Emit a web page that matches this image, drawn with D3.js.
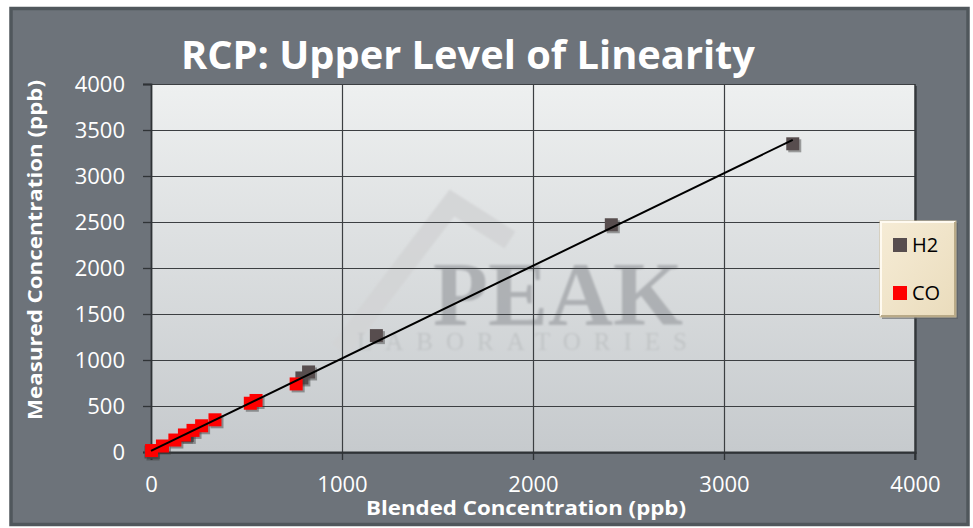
<!DOCTYPE html>
<html><head><meta charset="utf-8">
<script src="https://cdn.jsdelivr.net/npm/d3@7"></script>
<style>html,body{margin:0;padding:0;background:#fff;}svg{display:block;}</style>
</head><body>
<svg id="c" width="973" height="528"></svg>
<script>
// ---- data ----
const seriesNames = ["H2", "CO"];
const h2Blended  = [0, 190, 790, 825, 1180, 2410, 3360];
const h2Measured = [0, 180, 805, 870, 1265, 2470, 3350];
const coBlended  = [3, 60, 125, 175, 220, 265, 335, 520, 550, 760];
const coMeasured = [16, 65, 130, 185, 235, 285, 350, 530, 560, 740];
const xTicks = [0, 1000, 2000, 3000, 4000];
const yTicks = [0, 500, 1000, 1500, 2000, 2500, 3000, 3500, 4000];
const titleText = "RCP: Upper Level of Linearity";
const xTitle = "Blended Concentration (ppb)";
const yTitle = "Measured Concentration (ppb)";

const svg = d3.select("#c");
const L = 151, R = 915, T = 84, B = 452;
const x = d3.scaleLinear().domain([0, 4000]).range([L, R]);
const y = d3.scaleLinear().domain([0, 4000]).range([B, T]);
const font = "'Open Sans', 'Liberation Sans', sans-serif";

const defs = svg.append("defs");
const pg = defs.append("linearGradient").attr("id", "plotg").attr("x1", 0).attr("y1", 0).attr("x2", 0).attr("y2", 1);
pg.append("stop").attr("offset", "0%").attr("stop-color", "#eef0f0");
pg.append("stop").attr("offset", "100%").attr("stop-color", "#c6cacd");
const lg = defs.append("linearGradient").attr("id", "legg").attr("x1", 0).attr("y1", 0).attr("x2", 1).attr("y2", 1);
lg.append("stop").attr("offset", "0%").attr("stop-color", "#f6ecd6");
lg.append("stop").attr("offset", "100%").attr("stop-color", "#eadcbc");
const blur = defs.append("filter").attr("id", "soft");
blur.append("feGaussianBlur").attr("stdDeviation", 0.9);

// chart frame
svg.append("rect").attr("x", 11).attr("y", 8.5).attr("width", 957).attr("height", 516)
  .attr("fill", "#6d737a").attr("stroke", "#50575c").attr("stroke-width", 3.5);

// plot area with shadow
svg.append("rect").attr("x", L + 2).attr("y", T + 2).attr("width", R - L).attr("height", B - T)
  .attr("fill", "#3a3f44").attr("opacity", 0.8);
svg.append("rect").attr("x", L).attr("y", T).attr("width", R - L).attr("height", B - T)
  .attr("fill", "url(#plotg)");

// watermark
const wm = svg.append("g").attr("filter", "url(#soft)");
wm.append("path").attr("d", "M340,350 L452,203 L510,240")
  .attr("fill", "none").attr("stroke", "#d2d4d5").attr("stroke-width", 20).attr("stroke-linejoin", "miter")
  .attr("opacity", 0.85);
wm.append("text").attr("x", 558).attr("y", 325).attr("text-anchor", "middle")
  .attr("font-family", "'Liberation Serif', 'DejaVu Serif', serif").attr("font-weight", "bold").attr("font-size", 90)
  .attr("textLength", 250).attr("lengthAdjust", "spacingAndGlyphs")
  .attr("fill", "#a4a7aa").attr("opacity", 0.8).text("PEAK");
wm.append("text").attr("x", 522).attr("y", 350).attr("text-anchor", "middle")
  .attr("font-family", "'Liberation Serif', 'DejaVu Serif', serif").attr("font-size", 25)
  .attr("textLength", 330).attr("lengthAdjust", "spacing")
  .attr("fill", "#bfc2c4").attr("opacity", 0.85).text("LABORATORIES");

// gridlines
const grid = svg.append("g").attr("stroke", "#3c3f42").attr("stroke-width", 1.2);
grid.selectAll(".hg").data(yTicks.filter(d => d > 0)).enter().append("line")
  .attr("x1", L).attr("x2", R).attr("y1", d => Math.round(y(d)) + 0.5).attr("y2", d => Math.round(y(d)) + 0.5);
grid.selectAll(".vg").data(xTicks.filter(d => d > 0 && d < 4000)).enter().append("line")
  .attr("y1", T).attr("y2", B).attr("x1", d => Math.round(x(d)) + 0.5).attr("x2", d => Math.round(x(d)) + 0.5);

// axes
const fmt = d3.format("d");
const xAxis = d3.axisBottom(x).tickValues(xTicks).tickFormat(fmt).tickSize(8).tickPadding(16);
const yAxis = d3.axisLeft(y).tickValues(yTicks).tickFormat(fmt).tickSize(8).tickPadding(18);
const gx = svg.append("g").attr("transform", `translate(0,${B})`).call(xAxis);
const gy = svg.append("g").attr("transform", `translate(${L},0)`).call(yAxis);
[gx, gy].forEach(g => {
  g.select(".domain").attr("stroke", "#2f3336").attr("stroke-width", 1.8);
  g.selectAll(".tick line").attr("stroke", "#2f3336").attr("stroke-width", 1.3);
  g.selectAll(".tick text").attr("fill", "#ffffff").attr("font-family", font).attr("font-size", 22);
});
gx.selectAll(".tick text").attr("dy", "0.71em");
gy.selectAll(".tick text").attr("dy", "0.35em");
svg.append("line").attr("x1", R).attr("x2", R).attr("y1", T).attr("y2", B + 8)
  .attr("stroke", "#2f3336").attr("stroke-width", 1.5);

// linear trendline (ordinary least squares, all points)
const allX = h2Blended.concat(coBlended), allY = h2Measured.concat(coMeasured);
const mx = d3.mean(allX), my = d3.mean(allY);
const slope = d3.sum(allX, (v, i) => (v - mx) * (allY[i] - my)) / d3.sum(allX, v => (v - mx) * (v - mx));
const icpt = my - slope * mx;
const xMin = d3.min(allX), xMax = d3.max(allX);

// markers
const S = 13;
function drawSeries(xs, ys, color) {
  const g = svg.append("g");
  const pts = xs.map((v, i) => [v, ys[i]]);
  g.selectAll(".sh").data(pts).enter().append("rect")
    .attr("x", d => x(d[0]) - S / 2 + 2).attr("y", d => y(d[1]) - S / 2 + 2)
    .attr("width", S).attr("height", S).attr("fill", "#3a3a3a").attr("opacity", 0.45);
  g.selectAll(".pt").data(pts).enter().append("rect")
    .attr("x", d => x(d[0]) - S / 2).attr("y", d => y(d[1]) - S / 2)
    .attr("width", S).attr("height", S).attr("fill", color);
}
drawSeries(h2Blended, h2Measured, "#574d4e");
drawSeries(coBlended, coMeasured, "#ff0000");
svg.append("line").attr("x1", x(xMin)).attr("y1", y(slope * xMin + icpt))
  .attr("x2", x(xMax)).attr("y2", y(slope * xMax + icpt))
  .attr("stroke", "#000").attr("stroke-width", 2);

// titles
svg.append("text").attr("x", 468).attr("y", 69).attr("text-anchor", "middle")
  .attr("font-family", font).attr("font-weight", "bold").attr("font-size", 39)
  .attr("textLength", 574).attr("lengthAdjust", "spacingAndGlyphs")
  .attr("fill", "#fff").text(titleText);
svg.append("text").attr("x", 526).attr("y", 515).attr("text-anchor", "middle")
  .attr("font-family", font).attr("font-weight", "bold").attr("font-size", 19)
  .attr("textLength", 320).attr("lengthAdjust", "spacingAndGlyphs")
  .attr("fill", "#fff").text(xTitle);
svg.append("text").attr("transform", "translate(42,250) rotate(-90)").attr("text-anchor", "middle")
  .attr("font-family", font).attr("font-weight", "bold").attr("font-size", 20)
  .attr("textLength", 340).attr("lengthAdjust", "spacingAndGlyphs")
  .attr("fill", "#fff").text(yTitle);

// legend
const leg = svg.append("g");
leg.append("rect").attr("x", 882).attr("y", 223).attr("width", 76).attr("height", 96)
  .attr("fill", "#5a5e62").attr("opacity", 0.6);
leg.append("rect").attr("x", 880).attr("y", 221).attr("width", 76).attr("height", 96)
  .attr("fill", "url(#legg)").attr("stroke", "#cdbf9f").attr("stroke-width", 1);
leg.append("path").attr("d", "M881,316 L881,222 L955,222").attr("fill", "none")
  .attr("stroke", "#fffaf0").attr("stroke-width", 2);
leg.append("path").attr("d", "M955,222 L955,316 L881,316").attr("fill", "none")
  .attr("stroke", "#b9aa88").attr("stroke-width", 2);
const legColors = ["#574d4e", "#ff0000"];
const legY = [245, 293];
seriesNames.forEach((n, i) => {
  leg.append("rect").attr("x", 893).attr("y", legY[i] - 7).attr("width", 14).attr("height", 14).attr("fill", legColors[i]);
  leg.append("text").attr("x", 912).attr("y", legY[i] + 7).attr("font-family", font)
    .attr("font-size", 20).attr("fill", "#000").text(n);
});
</script>
</body></html>
